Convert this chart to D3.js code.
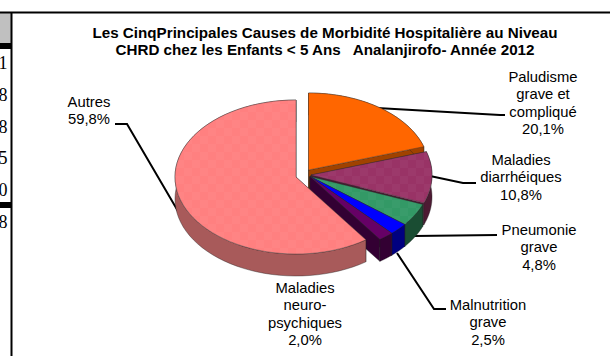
<!DOCTYPE html>
<html>
<head>
<meta charset="utf-8">
<script src="https://cdn.jsdelivr.net/npm/d3@7"></script>
<style>
  html, body { margin: 0; background: #fff; }
  svg { display: block; }
  text { font-family: "Liberation Sans", Arial, sans-serif; fill: #000; }
</style>
</head>
<body>
<svg id="viz" width="610" height="356"></svg>
<script>
const svg = d3.select("#viz");

const chartTitle = [
  "Les CinqPrincipales Causes de Morbidité Hospitalière au Niveau",
  "CHRD chez les Enfants < 5 Ans   Analanjirofo- Année 2012"
];
const causes = ["Paludisme", "Maladies diarrhéiques", "Pneumonie grave", "Malnutrition grave", "Maladies neuro-psychiques", "Autres"];
const shares = [20.1, 10.8, 4.8, 2.5, 2.0, 59.8];
const cutDigits = ["1", "8", "8", "5", "0", "8"];

// couleurs dessus / flanc
const topColor = ["#ff6600", "#993366", "#339966", "#0000ff", "#660066", "#ff8080"];
const sideColor = ["#a04200", "#4d1a33", "#1a4d33", "#000080", "#330033", "#a85a5a"];
const hasDither = [false, true, true, false, false, true];

// décalage des parts éclatées
const shift = [[-1.5, -6.5], [1, -1.5], [0, 0], [0, 0], [0, 0], [-14, 0.5]];

// étiquettes
const labels = [
  { lines: ["Paludisme", "grave et", "compliqué", "20,1%"], x: 543, y: 77 },
  { lines: ["Maladies", "diarrhéiques", "10,8%"], x: 521, y: 160 },
  { lines: ["Pneumonie", "grave", "4,8%"], x: 539, y: 230 },
  { lines: ["Malnutrition", "grave", "2,5%"], x: 488, y: 305 },
  { lines: ["Maladies", "neuro-", "psychiques", "2,0%"], x: 305, y: 288 },
  { lines: ["Autres", "59,8%"], x: 89, y: 102 }
];

// traits de rappel
const leaders = [
  [[377, 108], [500, 115], [505, 115]],
  [[430, 176], [463, 183], [476, 183]],
  [[414, 236], [497, 235]],
  [[397, 253], [434, 309], [446, 309]],
  [[115, 124], [127, 124], [182, 218]]
];

const cx = 310, cy = 176.5, rx = 121, ry = 77, depth = 22;

const pie = d3.pie().sort(null).value(d => d);
const arcs = pie(shares);
const line = d3.line();

const onRim = (a, dx, dy) => [cx + dx + rx * Math.sin(a), cy + dy + ry * -Math.cos(a)];
const rim = (a0, a1, dx, dy) => d3.range(0, 61).map(i => onRim(a0 + (a1 - a0) * i / 60, dx, dy));

// cadre et tableau coupé à gauche
svg.append("rect").attr("x", 0).attr("y", 13).attr("width", 11).attr("height", 30).attr("fill", "#c0c0c0");
svg.append("rect").attr("x", 0).attr("y", 43).attr("width", 11).attr("height", 6).attr("fill", "#000");
svg.append("rect").attr("x", 0).attr("y", 202).attr("width", 11).attr("height", 6).attr("fill", "#000");
svg.append("clipPath").attr("id", "cut").append("rect").attr("width", 11).attr("height", 356);
svg.append("g").attr("clip-path", "url(#cut)")
  .selectAll("text").data(cutDigits).enter().append("text")
  .attr("x", 7.5)
  .attr("y", (d, i) => 69 + i * 31.8)
  .attr("text-anchor", "end")
  .style("font-family", '"Liberation Serif", serif')
  .style("font-size", "18px")
  .text(d => d);
svg.append("path").attr("d", "M0,12.5H610").attr("stroke", "#000").attr("stroke-width", 2);
svg.append("path").attr("d", "M11.5,12V356").attr("stroke", "#000").attr("stroke-width", 2);

// motif tramé léger des remplissages
const dither = svg.append("defs").append("pattern")
  .attr("id", "dither").attr("width", 16).attr("height", 16)
  .attr("patternUnits", "userSpaceOnUse");
dither.append("rect").attr("width", 8).attr("height", 8).attr("fill", "#fff").attr("opacity", 0.03);
dither.append("rect").attr("x", 8).attr("y", 8).attr("width", 8).attr("height", 8).attr("fill", "#fff").attr("opacity", 0.03);

// titre
svg.append("g").selectAll("text").data(chartTitle).enter().append("text")
  .attr("x", 325)
  .attr("y", (d, i) => 38 + i * 17)
  .attr("text-anchor", "middle")
  .style("font-size", "15.2px")
  .style("font-weight", "bold")
  .style("white-space", "pre")
  .text(d => d);

// traits de rappel derrière les parts
const leaderG = svg.append("g");

// parts : flancs puis dessus, de l'arrière vers l'avant
const sliceG = svg.append("g").selectAll("g").data(arcs).enter().append("g").attr("class", "slice");
sliceG.each(function (d, i) {
  const g = d3.select(this);
  const [dx, dy] = shift[i];
  const apex = [cx + dx, cy + dy];
  const low = p => [p[0], p[1] + depth];
  const outer = rim(d.startAngle, d.endAngle, dx, dy);
  const faces = [
    [apex, outer[0], low(outer[0]), low(apex)],
    [apex, outer[60], low(outer[60]), low(apex)],
    outer.concat(outer.map(low).reverse())
  ];
  faces.forEach(f => {
    g.append("path")
      .attr("d", line(f) + "Z")
      .attr("fill", sideColor[i])
      .attr("stroke", "#222")
      .attr("stroke-width", 0.4);
  });
  const top = line([apex].concat(outer)) + "Z";
  g.append("path")
    .attr("d", top)
    .attr("fill", topColor[i])
    .attr("stroke", "#333")
    .attr("stroke-width", 0.4);
  if (hasDither[i]) g.append("path").attr("d", top).attr("fill", "url(#dither)");
});

leaderG.selectAll("path").data(leaders).enter().append("path")
  .attr("d", d => line(d))
  .attr("fill", "none")
  .attr("stroke", "#000")
  .attr("stroke-width", 2);

// étiquettes
svg.append("g").selectAll("text").data(labels).enter().append("text")
  .attr("text-anchor", "middle")
  .style("font-size", "14.8px")
  .each(function (d) {
    d3.select(this).selectAll("tspan").data(d.lines).enter().append("tspan")
      .attr("x", d.x)
      .attr("y", (l, i) => d.y + 5 + i * 17.4)
      .text(l => l);
  });
</script>
</body>
</html>
